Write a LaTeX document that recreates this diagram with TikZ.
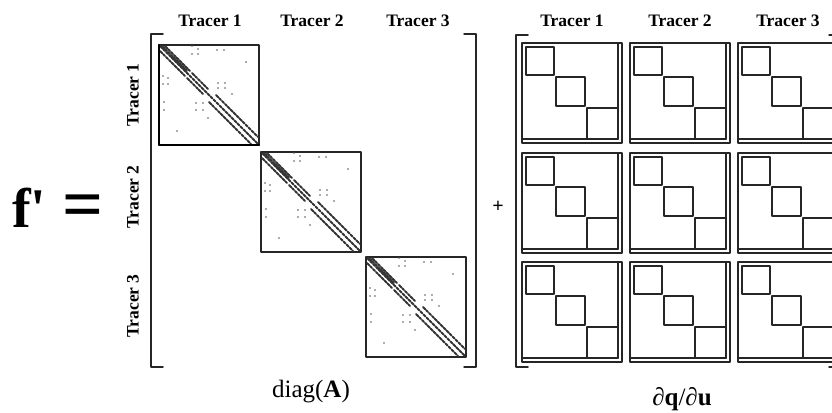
\documentclass[tikz,border=0pt]{standalone}
\usepackage{fontspec}
\setmainfont{Liberation Serif}
\tikzset{
  every picture/.style={line join=round, line cap=round},
  brk/.style={line width=1.5pt, black!85},
  blk/.style={draw=black!85, line width=1.4pt},
  band/.style={line width=1.8pt, black!80, dash pattern=on 3pt off 1.2pt},
  hdr/.style={font=\fontsize{17.5}{18}\selectfont\bfseries, anchor=base},
  lbl/.style={font=\fontsize{25}{25}\selectfont},
}

\begin{document}
\begin{tikzpicture}[x=1pt,y=-1pt]
\useasboundingbox (0,0) rectangle (832,412);
\clip (0,0) rectangle (832,412);
\node[anchor=base west, inner sep=0pt, font=\fontsize{56}{56}\selectfont\bfseries] (fp) at (12,227) {f\textquotesingle};
\node[font=\fontsize{72}{72}\selectfont\bfseries] (eq) at (83,212) {=};
\foreach \n/\x in {1/210,2/312,3/418}
  \node[hdr] (lh\n) at (\x,27) {Tracer \n};
\foreach \n/\y in {1/95,2/197,3/306}
  \node[hdr, anchor=center, rotate=90] (lv\n) at (133,\y) {Tracer \n};
\foreach \n/\x in {1/572,2/680,3/788}
  \node[hdr] (rh\n) at (\x,27) {Tracer \n};
\draw[brk] (163,34) -- (151,34) -- (151,367) -- (163,367);
\draw[brk] (464,34) -- (476,34) -- (476,367) -- (464,367);
\draw[brk] (528,35) -- (516,35) -- (516,367) -- (528,367);
\draw[brk] (829,35) -- (841,35) -- (841,367) -- (829,367);
\foreach \x/\y in {159/45,261/152,366/257}{
  \begin{scope}[shift={(\x,\y)}]
    \draw[blk, line width=1.1pt] (0,0) rectangle (100,100);
    \draw[band] (1,1) -- (99,99);
    \draw[band] (6,1) -- (31,26) (1,6) -- (26,31) (3,1) -- (28,26);
    \draw[band] (33,28) -- (49,44) (28,33) -- (44,49);
    \draw[band] (57,50) -- (99,92) (50,57) -- (92,99);
    \foreach \a/\b in {33/1,39/4,33/9,39/9,58/5,65/5,87/17,4/31,9/33,4/39,9/39,
      59/38,66/38,59/43,66/43,73/49,5/57,5/65,37/58,44/58,37/65,44/65,49/73,18/86}
      \fill[black!65] (\a,\b) circle (0.9pt);
  \end{scope}
}
\draw[line width=2.2pt] (159,45) -- (159,145) -- (259,145);
\node[font=\fontsize{20}{20}\selectfont\bfseries] (plus) at (498,207) {+};
\foreach \cx in {522,630,738}
  \foreach \ry in {43,153,262}{
    \begin{scope}[shift={(\cx,\ry)}]
      \draw[blk] (0,0) rectangle (100,100);
      \draw[blk] (96,0) -- (96,96) -- (0,96);
      \draw[blk] (4,4) rectangle (32,32) (34,34) rectangle (63,63) (65,65) rectangle (96,96);
    \end{scope}
  }
\node[lbl] (diagA) at (311,392) {diag(\textbf{A})};
\node[lbl] (dqdu) at (682,399) {∂\textbf{q}/∂\textbf{u}};
\end{tikzpicture}
\end{document}
